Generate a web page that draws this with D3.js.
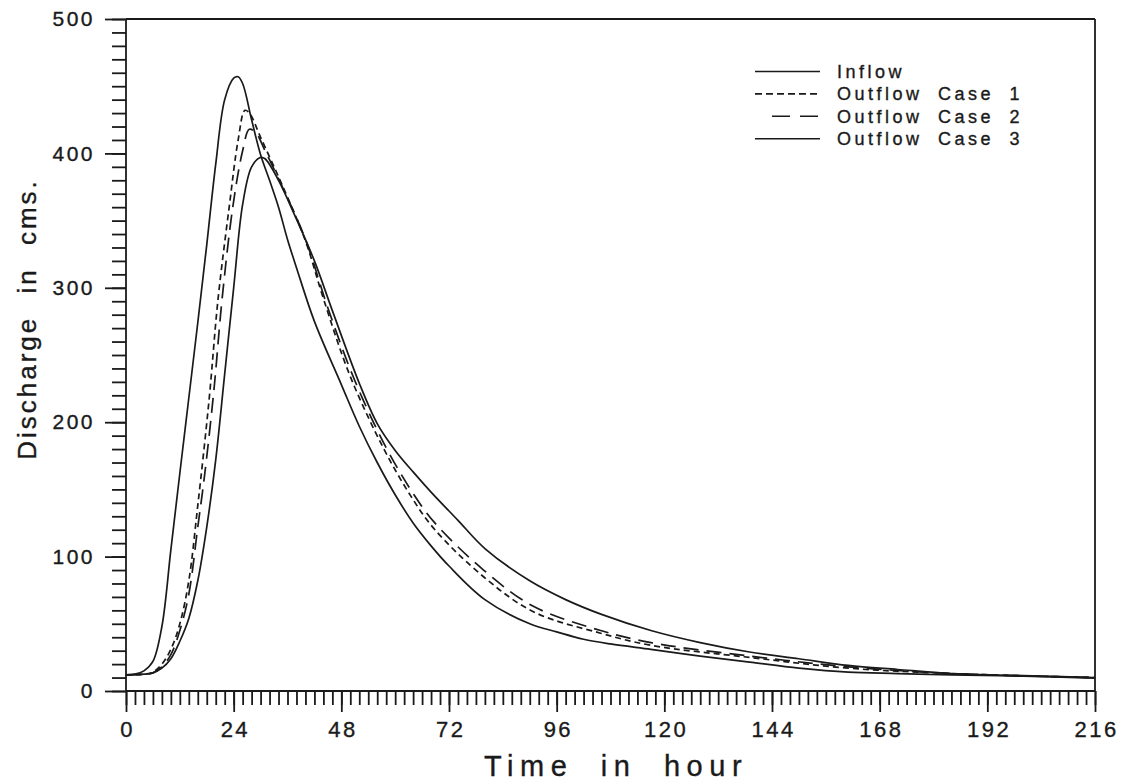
<!DOCTYPE html>
<html><head><meta charset="utf-8">
<script src="https://cdn.jsdelivr.net/npm/d3@7"></script>
<style>
html,body{margin:0;padding:0;background:#fff;}
svg{display:block;}
text{font-family:"Liberation Sans",Arial,sans-serif;fill:#1a1a1a;stroke:#1a1a1a;stroke-width:0.35px;}
</style></head>
<body><svg id="c" width="1127" height="783"></svg>
<script>
// ---- data (time in hours, discharge in cms) ----
const inflow = [[0,12],[2,12.5],[4,15],[6,22],[8,48],[10,105],[12,162],[14,218],[16,274],[18,332],[20,392],[22,440],[24,456],[25,457],[26,452],[28,425],[30,399],[32,380],[34,360],[36,336],[38,315],[42,275],[48,228],[52,197],[56,170],[60,146],[64,125],[68,108],[72,93],[80,68],[90,50],[96,44],[102,38.5],[108,35],[117,31],[128,26],[139,21.5],[150,17],[161,14],[172,13],[184,12],[200,11],[216,9.5]];
const case1 = [[0,12],[4,12.5],[6,14],[8,20],[10,31],[12,50],[14,82],[16,138],[18.5,216],[20.5,291],[23,360],[25,410],[26.5,432],[27.5,430],[30,412],[35,375],[40,335],[44,292],[50,234],[57.5,180],[63.5,145],[68.6,121],[79.7,85],[90.8,59],[105.8,43],[117,34],[139,25],[161,17],[184,13],[216,10]];
const case2 = [[0,12],[4,12.5],[6,13.5],[8,18],[10,27],[12,45],[14,72],[16,122],[17.5,160],[19.6,224],[21.4,291],[23.8,360],[26,402],[27.5,418],[29,415],[31,402],[35,374],[40,336],[45,285],[51,231],[58,181],[64,147],[68.6,126],[79.7,90],[90.8,63],[105.8,45],[117,36],[139,26],[161,18],[184,13],[216,10]];
const case3 = [[0,12],[4,12.5],[6,13.5],[8,17],[10,24],[12,37],[14,54],[16,82],[18,122],[20,172],[22,236],[24,300],[26,362],[28,390],[30,397],[31,396],[34,380],[38,351],[42,320],[46,283],[52,229],[56,199],[60,179],[64,163],[68,148],[74,127],[80,106],[90,82],[98,68],[106,57],[117,45],[128,36],[139,29],[150,24],[161,19],[172,16],[184,13],[200,11.5],[216,10]];
const seriesNames = ["Inflow","Outflow Case 1","Outflow Case 2","Outflow Case 3"];
const xMajorTicks = [0,24,48,72,96,120,144,168,192,216];
const yMajorTicks = [0,100,200,300,400,500];
const xTitle = "Time in hour";
const yTitle = "Discharge in cms.";

// ---- drawing ----
const svg = d3.select("#c");
const x = d3.scaleLinear().domain([0,216]).range([126,1095]);
const y = d3.scaleLinear().domain([0,500]).range([691,19]);
const ink = "#1a1a1a";

// minor ticks
svg.append("g").attr("transform",`translate(0,${y(0)})`)
  .call(d3.axisBottom(x).tickValues(d3.range(0,217,2)).tickSize(14).tickFormat(""))
  .call(g=>g.select(".domain").remove());
svg.append("g").attr("transform",`translate(${x(0)},0)`)
  .call(d3.axisLeft(y).tickValues(d3.range(0,501,10)).tickSize(14).tickFormat(""))
  .call(g=>g.select(".domain").remove());
// major ticks with labels
const gx = svg.append("g").attr("transform",`translate(0,${y(0)})`)
  .call(d3.axisBottom(x).tickValues(xMajorTicks).tickSize(21).tickPadding(9))
  .call(g=>g.select(".domain").remove());
gx.selectAll("text").attr("font-size",22).attr("letter-spacing","2.5px").attr("font-family","Liberation Sans").attr("fill",ink).attr("dx","1.2");
const gy = svg.append("g").attr("transform",`translate(${x(0)},0)`)
  .call(d3.axisLeft(y).tickValues(yMajorTicks).tickSize(21).tickPadding(10))
  .call(g=>g.select(".domain").remove());
gy.selectAll("text").attr("font-size",21).attr("letter-spacing","2.5px").attr("font-family","Liberation Sans").attr("fill",ink);
svg.selectAll(".tick line").attr("stroke",ink).attr("stroke-width",1.8);

// frame
const frame = svg.append("g").attr("stroke",ink).attr("stroke-width",1.8).attr("fill","none");
frame.append("line").attr("x1",x(0)).attr("x2",x(0)).attr("y1",y(500)).attr("y2",y(0));
frame.append("line").attr("x1",x(0)).attr("x2",x(216)).attr("y1",y(0)).attr("y2",y(0));
frame.append("line").attr("x1",x(0)).attr("x2",x(216)).attr("y1",y(500)).attr("y2",y(500));
frame.append("line").attr("x1",x(216)).attr("x2",x(216)).attr("y1",y(500)).attr("y2",y(0));

// curves
const line = d3.line().x(d=>x(d[0])).y(d=>y(d[1])).curve(d3.curveCatmullRom.alpha(0.5));
const styles = [
  {data:inflow, dash:null},
  {data:case1, dash:"6,4"},
  {data:case2, dash:"15,8"},
  {data:case3, dash:null}
];
styles.forEach(s=>{
  svg.append("path").datum(s.data).attr("d",line)
    .attr("fill","none").attr("stroke",ink).attr("stroke-width",1.7)
    .attr("stroke-dasharray",s.dash);
});

// legend
const lg = svg.append("g");
const legendDash = [null,"7,4","18,10",null];
seriesNames.forEach((n,i)=>{
  const ly = 71.5 + i*22.4;
  lg.append("line").attr("x1", i===2?772:755).attr("x2",820).attr("y1",ly).attr("y2",ly)
    .attr("stroke",ink).attr("stroke-width",1.6).attr("stroke-dasharray",legendDash[i]);
  lg.append("text").attr("x",837).attr("y",ly+6.5).attr("font-size",18)
    .attr("letter-spacing","3.5px").attr("word-spacing","7px").text(n);
});

// axis titles
svg.append("text").attr("x",616).attr("y",776).attr("text-anchor","middle")
  .attr("font-size",29).attr("letter-spacing","6.5px").attr("word-spacing","13px").text(xTitle);
svg.append("text").attr("transform","translate(36,319) rotate(-90)").attr("text-anchor","middle")
  .attr("font-size",26).attr("letter-spacing","3px").attr("word-spacing","12px").text(yTitle);
</script></body></html>
